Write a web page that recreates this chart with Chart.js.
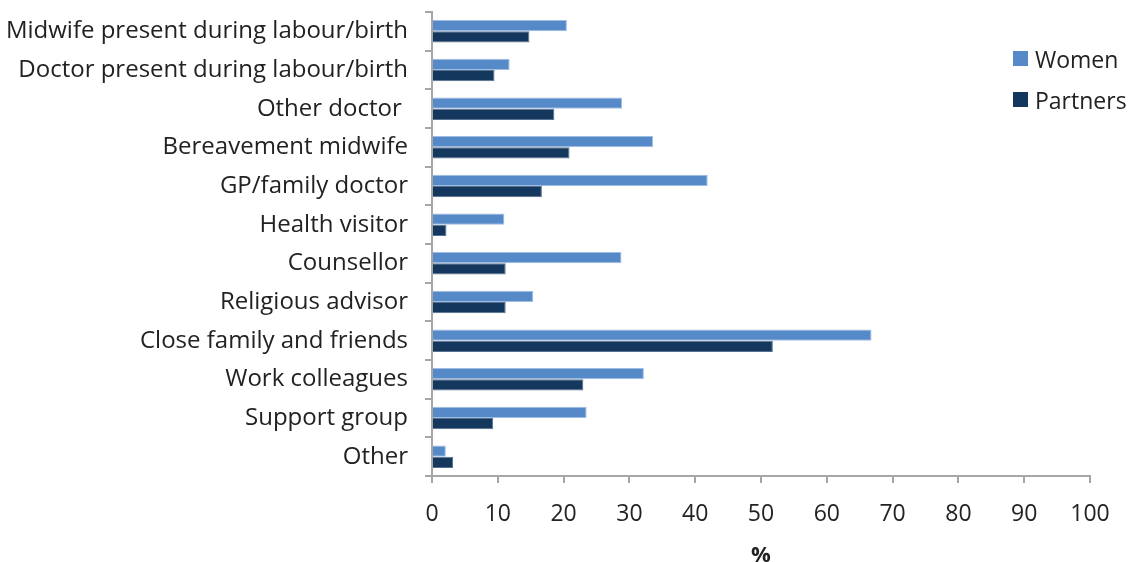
<!DOCTYPE html>
<html>
<head>
<meta charset="utf-8">
<script src="https://cdn.jsdelivr.net/npm/chart.js@4.4.1/dist/chart.umd.min.js"></script>
<style>
    html, body { margin: 0; padding: 0; background: #fff; }
    #wrap { position: relative; width: 1134px; height: 562px; }
    #legend { position: absolute; left: 1013px; top: 38px; font-family: "Open Sans", sans-serif; font-size: 23px; color: #222; }
    #legend div { display: flex; align-items: center; height: 41px; }
    #legend span.box { display: inline-block; width: 15px; height: 15px; margin-right: 7px; }
</style>
</head>
<body>
<div id="wrap">
    <canvas id="chart" width="1134" height="562"></canvas>
    <div id="legend"></div>
</div>
<script>
// Categories, top to bottom
const categories = [
    'Midwife present during labour/birth',
    'Doctor present during labour/birth',
    'Other doctor ',
    'Bereavement midwife',
    'GP/family doctor',
    'Health visitor',
    'Counsellor',
    'Religious advisor',
    'Close family and friends',
    'Work colleagues',
    'Support group',
    'Other'
];

// Percentages
const women = [20.5, 11.8, 28.9, 33.6, 41.9, 11.0, 28.8, 15.4, 66.8, 32.2, 23.5, 2.1];
const partners = [14.8, 9.5, 18.6, 20.9, 16.7, 2.2, 11.2, 11.2, 51.8, 23.0, 9.3, 3.2];

const xTicks = [0, 10, 20, 30, 40, 50, 60, 70, 80, 90, 100];

const WOMEN_COLOR = '#5689c8';
const PARTNERS_COLOR = '#14375e';
const AXIS_COLOR = '#a6a6a6';
const TEXT_COLOR = '#222';
const FONT = '"Open Sans", sans-serif';

const datasets = [
    {
        label: 'Women',
        data: women,
        backgroundColor: WOMEN_COLOR,
        borderColor: '#9fbde3',
        borderWidth: 1
    },
    {
        label: 'Partners',
        data: partners,
        backgroundColor: PARTNERS_COLOR,
        borderColor: '#56718f',
        borderWidth: 1
    }
];

new Chart(document.getElementById('chart'), {
    type: 'bar',
    data: { labels: categories, datasets: datasets },
    options: {
        indexAxis: 'y',
        responsive: false,
        animation: false,
        layout: { padding: { top: 12, right: 44, left: 0, bottom: 0 } },
        datasets: {
            bar: { categoryPercentage: 0.58, barPercentage: 1.0 }
        },
        scales: {
            x: {
                min: 0,
                max: 100,
                afterBuildTicks: axis => { axis.ticks = xTicks.map(v => ({ value: v })); },
                afterFit: axis => { axis.height = 86; },
                border: { color: AXIS_COLOR, width: 2 },
                grid: { drawOnChartArea: false, drawTicks: true, tickLength: 7, color: AXIS_COLOR, lineWidth: 2 },
                ticks: { color: TEXT_COLOR, font: { family: FONT, size: 23 }, padding: 18 },
                title: { display: true, text: '%', color: TEXT_COLOR, font: { family: FONT, size: 22, weight: 'bold' }, padding: { top: 0, bottom: -7 } }
            },
            y: {
                afterFit: axis => {
                    axis.width = 432;
                    axis.paddingTop = 0;
                    axis.paddingBottom = 0;
                },
                border: { color: AXIS_COLOR, width: 2 },
                grid: { drawOnChartArea: false, drawTicks: true, tickLength: 7, color: AXIS_COLOR, lineWidth: 2, offset: true },
                ticks: { color: TEXT_COLOR, font: { family: FONT, size: 24 }, padding: 17 }
            }
        },
        plugins: {
            legend: { display: false },
            tooltip: { enabled: false }
        }
    }
});

// Legend drawn as html text
const legend = document.getElementById('legend');
datasets.forEach(ds => {
    const row = document.createElement('div');
    row.innerHTML = '<span class="box" style="background:' + ds.backgroundColor + '"></span>' + ds.label;
    legend.appendChild(row);
});
</script>
</body>
</html>
